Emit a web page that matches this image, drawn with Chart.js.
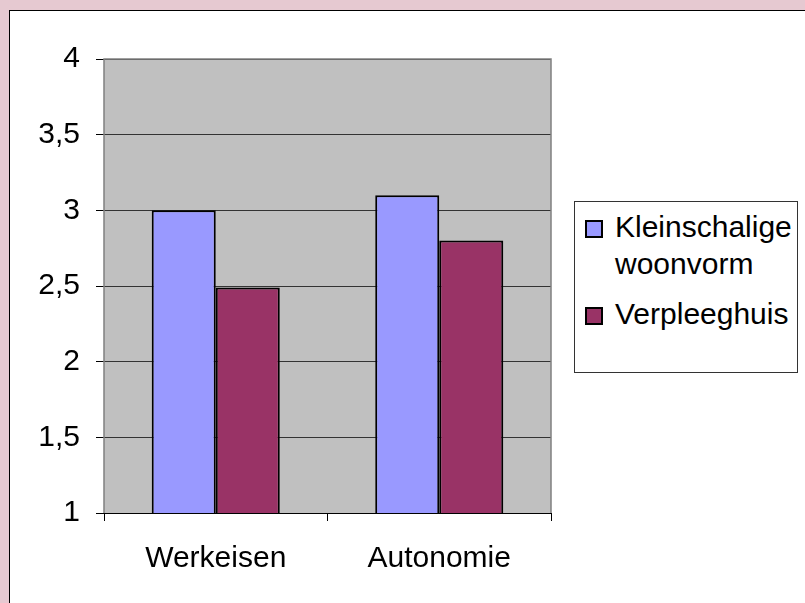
<!DOCTYPE html>
<html>
<head>
<meta charset="utf-8">
<script src="https://cdn.jsdelivr.net/npm/chart.js@4/dist/chart.umd.min.js"></script>
<style>
  html, body { margin: 0; padding: 0; }
  body { width: 805px; height: 603px; background: #E6C9D1; position: relative; overflow: hidden; font-family: "Liberation Sans", Arial, sans-serif; }
  #frame { position: absolute; left: 9px; top: 10px; width: 820px; height: 620px; background: #fff; border: 1px solid #000; }
  #wrap { position: absolute; left: 0; top: 0; width: 805px; height: 603px; }
  #legend { position: absolute; left: 574px; top: 201px; width: 224px; height: 172px; border: 1px solid #333; background: #fff; box-sizing: border-box; }
  .item { position: absolute; left: 0; font-size: 30px; color: #000; line-height: 37px; }
  .sw { position: absolute; width: 14px; height: 14px; border: 2px solid #000; }
  .txt { position: absolute; left: 40px; white-space: nowrap; }
</style>
</head>
<body>
<div id="frame"></div>
<div id="wrap"><canvas id="c" width="805" height="603"></canvas></div>
<div id="legend"></div>
<script>
const categories = ["Werkeisen", "Autonomie"];
const seriesNames = [["Kleinschalige", "woonvorm"], ["Verpleeghuis"]];
const kleinschalige = [3.0, 3.1];
const verpleeghuis = [2.49, 2.8];
const seriesColors = ["#9999FF", "#993366"];
const yTicks = [1, 1.5, 2, 2.5, 3, 3.5, 4];

// HTML legend
const legend = document.getElementById('legend');
const legendTops = [6, 93];
seriesNames.forEach((lines, i) => {
  const it = document.createElement('div');
  it.className = 'item';
  it.style.top = legendTops[i] + 'px';
  const sw = document.createElement('div');
  sw.className = 'sw';
  sw.style.left = '10px';
  sw.style.top = '12px';
  sw.style.background = seriesColors[i];
  it.appendChild(sw);
  const tx = document.createElement('div');
  tx.className = 'txt';
  tx.innerHTML = lines.join('<br>');
  it.appendChild(tx);
  legend.appendChild(it);
});

const plotBg = {
  id: 'plotBg',
  beforeDraw(chart) {
    const a = chart.chartArea, ctx = chart.ctx;
    ctx.save();
    ctx.fillStyle = '#C0C0C0';
    ctx.fillRect(a.left, a.top, a.right - a.left, a.bottom - a.top);
    ctx.restore();
  },
  afterDatasetsDraw(chart) {
    const a = chart.chartArea, ctx = chart.ctx;
    ctx.save();
    ctx.strokeStyle = '#808080';
    ctx.lineWidth = 1.5;
    ctx.beginPath();
    ctx.moveTo(a.left, a.bottom);
    ctx.lineTo(a.left, a.top);
    ctx.lineTo(a.right, a.top);
    ctx.lineTo(a.right, a.bottom);
    ctx.stroke();
    ctx.strokeStyle = '#000';
    ctx.lineWidth = 1;
    ctx.beginPath();
    ctx.moveTo(a.left - 8, a.bottom + 0.5);
    ctx.lineTo(a.right, a.bottom + 0.5);
    ctx.stroke();
    ctx.restore();
  }
};

const font = { family: '"Liberation Sans", Arial, sans-serif', size: 30 };

new Chart(document.getElementById('c'), {
  type: 'bar',
  data: {
    labels: categories,
    datasets: [
      { label: seriesNames[0].join(' '), data: kleinschalige, backgroundColor: seriesColors[0], borderColor: '#000', borderWidth: 2, borderSkipped: false },
      { label: seriesNames[1].join(' '), data: verpleeghuis, backgroundColor: seriesColors[1], borderColor: '#000', borderWidth: 2, borderSkipped: false }
    ]
  },
  options: {
    responsive: false,
    animation: false,
    events: [],
    layout: { padding: { left: 0, right: 254, top: 59, bottom: 0 } },
    datasets: { bar: { categoryPercentage: 0.573, barPercentage: 1.0 } },
    plugins: { legend: { display: false }, tooltip: { enabled: false } },
    scales: {
      x: {
        offset: true,
        grid: { offset: true, drawOnChartArea: false, drawTicks: true, tickLength: 8, color: '#000', lineWidth: 1 },
        border: { display: false },
        ticks: { color: '#000', font: font, padding: 20, maxRotation: 0 },
        afterFit(s) { s.height = 90; }
      },
      y: {
        min: 1, max: 4,
        afterBuildTicks(s) { s.ticks = yTicks.map(v => ({ value: v })); },
        grid: { color: '#333', lineWidth: 1, drawTicks: true, tickLength: 8, tickColor: '#000' },
        border: { display: false },
        ticks: { color: '#000', font: font, padding: 16, callback: v => String(v).replace('.', ',') },
        afterFit(s) { s.width = 104; }
      }
    }
  },
  plugins: [plotBg]
});
</script>
</body>
</html>
